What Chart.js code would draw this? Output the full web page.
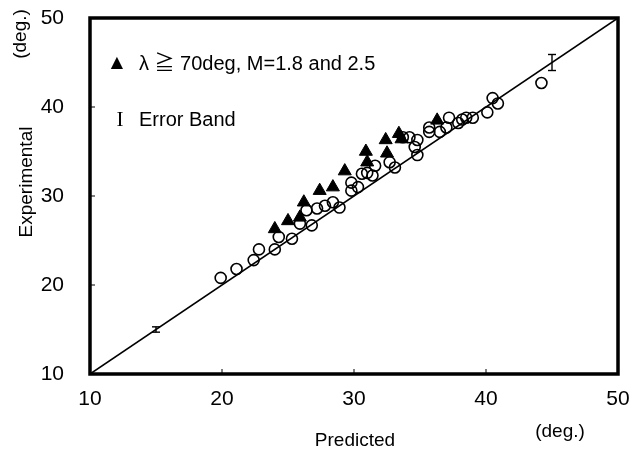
<!DOCTYPE html>
<html>
<head>
<meta charset="utf-8">
<script src="https://cdn.jsdelivr.net/npm/chart.js@4/dist/chart.umd.min.js"></script>
<style>
  html, body { margin: 0; padding: 0; background: #fff; }
  #wrap { width: 631px; height: 456px; }
</style>
</head>
<body>
<div id="wrap"><canvas id="chart"></canvas></div>
<script>
// axis ticks (deg.)
const tickValues = [10, 20, 30, 40, 50];

// open circles: predicted / experimental
const circleX = [19.9, 21.1, 22.4, 22.8, 24.0, 24.3, 25.3, 25.9, 26.4, 26.8, 27.2, 27.8, 28.4, 28.9,
  29.8, 29.8, 30.3, 30.6, 31.0, 31.4, 31.6, 32.7, 33.1, 33.7, 34.2, 34.6, 34.8, 34.8, 35.7, 35.7,
  36.5, 37.0, 37.2, 37.9, 38.2, 38.5, 39.0, 40.1, 40.5, 40.9, 44.2];
const circleY = [20.8, 21.8, 22.8, 24.0, 24.0, 25.4, 25.2, 26.9, 28.4, 26.7, 28.6, 28.9, 29.3, 28.7,
  31.5, 30.6, 31.0, 32.5, 32.6, 32.3, 33.4, 33.8, 33.2, 36.6, 36.6, 35.5, 34.6, 36.3, 37.2, 37.7,
  37.2, 37.7, 38.8, 38.2, 38.6, 38.8, 38.8, 39.4, 41.0, 40.4, 42.7];

// filled triangles: lambda >= 70deg, M=1.8 and 2.5
const triangleX = [24.0, 25.0, 25.9, 26.2, 27.4, 28.4, 29.3, 30.9, 31.0, 32.4, 32.5, 33.4, 33.6, 36.3];
const triangleY = [26.3, 27.2, 27.6, 29.3, 30.6, 31.0, 32.8, 35.0, 33.8, 36.3, 34.8, 37.0, 36.4, 38.5];

// error band bars
const bandX = [15, 45];
const bandLow = [14.7, 44.1];
const bandHigh = [15.3, 45.9];

// y = x reference line
const lineEnds = [10, 50];

const FONT = '"Liberation Sans", "Noto Sans CJK JP", sans-serif';

function pairs(xs, ys) {
  return xs.map((x, i) => ({ x: x, y: ys[i] }));
}

const datasets = [
  {
    type: 'line',
    data: pairs(lineEnds, lineEnds),
    borderColor: '#000',
    borderWidth: 1.6,
    pointRadius: 0,
    order: 4
  },
  {
    type: 'scatter',
    data: pairs(circleX, circleY),
    pointStyle: 'circle',
    pointRadius: 5.5,
    borderWidth: 1.6,
    borderColor: '#000',
    backgroundColor: 'rgba(0,0,0,0)',
    order: 3
  },
  {
    type: 'scatter',
    data: pairs(triangleX, triangleY),
    pointStyle: 'triangle',
    pointRadius: 7.5,
    borderWidth: 1,
    borderColor: '#000',
    backgroundColor: '#000',
    order: 2
  }
];
bandX.forEach((x, i) => {
  datasets.push({
    type: 'line',
    data: [{ x: x, y: bandLow[i] }, { x: x, y: bandHigh[i] }],
    borderColor: '#000',
    borderWidth: 1.4,
    pointStyle: 'line',
    pointRadius: 4,
    pointBorderWidth: 1.4,
    pointBorderColor: '#000',
    order: 1
  });
});

// frame, inner ticks and the free texts
const decor = {
  id: 'decor',
  afterDraw(chart) {
    const ctx = chart.ctx;
    const a = chart.chartArea;
    const xs = chart.scales.x, ys = chart.scales.y;
    ctx.save();
    ctx.strokeStyle = '#000';
    ctx.lineWidth = 3.5;
    ctx.strokeRect(a.left, a.top, a.right - a.left, a.bottom - a.top);
    ctx.lineWidth = 1;
    tickValues.slice(1, -1).forEach(v => {
      const px = xs.getPixelForValue(v);
      ctx.beginPath(); ctx.moveTo(px, a.bottom); ctx.lineTo(px, a.bottom - 5); ctx.stroke();
      const py = ys.getPixelForValue(v);
      ctx.beginPath(); ctx.moveTo(a.left, py); ctx.lineTo(a.left + 5, py); ctx.stroke();
    });

    ctx.fillStyle = '#000';
    ctx.textBaseline = 'middle';
    // legend
    ctx.font = '16px "DejaVu Sans", sans-serif';
    ctx.textAlign = 'center';
    ctx.fillText('\u25B2', 117, 63);
    ctx.font = '21px "Liberation Serif", serif';
    ctx.fillText('I', 120, 120);
    ctx.textAlign = 'left';
    ctx.font = '20px ' + FONT;
    ctx.fillText('\u03BB \u2267 70deg, M=1.8 and 2.5', 139, 64);
    ctx.fillText('Error Band', 139, 120);

    // axis titles
    ctx.textAlign = 'center';
    ctx.font = '19px ' + FONT;
    ctx.fillText('Predicted', 355, 441);
    ctx.fillText('(deg.)', 560, 432);
    ctx.save();
    ctx.translate(27, 182);
    ctx.rotate(-Math.PI / 2);
    ctx.fillText('Experimental', 0, 0);
    ctx.restore();
    ctx.save();
    ctx.translate(21, 34);
    ctx.rotate(-Math.PI / 2);
    ctx.fillText('(deg.)', 0, 0);
    ctx.restore();
    ctx.restore();
  }
};

// fixed scale boxes, no extra room for the end labels
function fixBox(s, w, h) {
  if (w) s.width = w;
  if (h) s.height = h;
  s.paddingTop = 0;
  s.paddingBottom = 0;
  s.paddingLeft = 0;
  s.paddingRight = 0;
}

const axis = (extra, pad) => Object.assign({
  type: 'linear',
  min: 10,
  max: 50,
  grid: { display: false, drawTicks: false },
  border: { display: false },
  ticks: {
    stepSize: 10,
    padding: pad,
    color: '#000',
    font: { family: FONT, size: 21 }
  }
}, extra);

new Chart(document.getElementById('chart'), {
  type: 'scatter',
  data: { datasets: datasets },
  options: {
    responsive: true,
    maintainAspectRatio: false,
    animation: false,
    layout: { autoPadding: false, padding: { top: 18, right: 13, left: 0, bottom: 0 } },
    plugins: { legend: { display: false }, tooltip: { enabled: false } },
    scales: {
      x: axis({
        position: 'bottom',
        afterFit: s => fixBox(s, 0, 82)
      }, 13),
      y: axis({
        position: 'left',
        afterFit: s => fixBox(s, 90, 0)
      }, 26)
    }
  },
  plugins: [decor]
});
</script>
</body>
</html>
